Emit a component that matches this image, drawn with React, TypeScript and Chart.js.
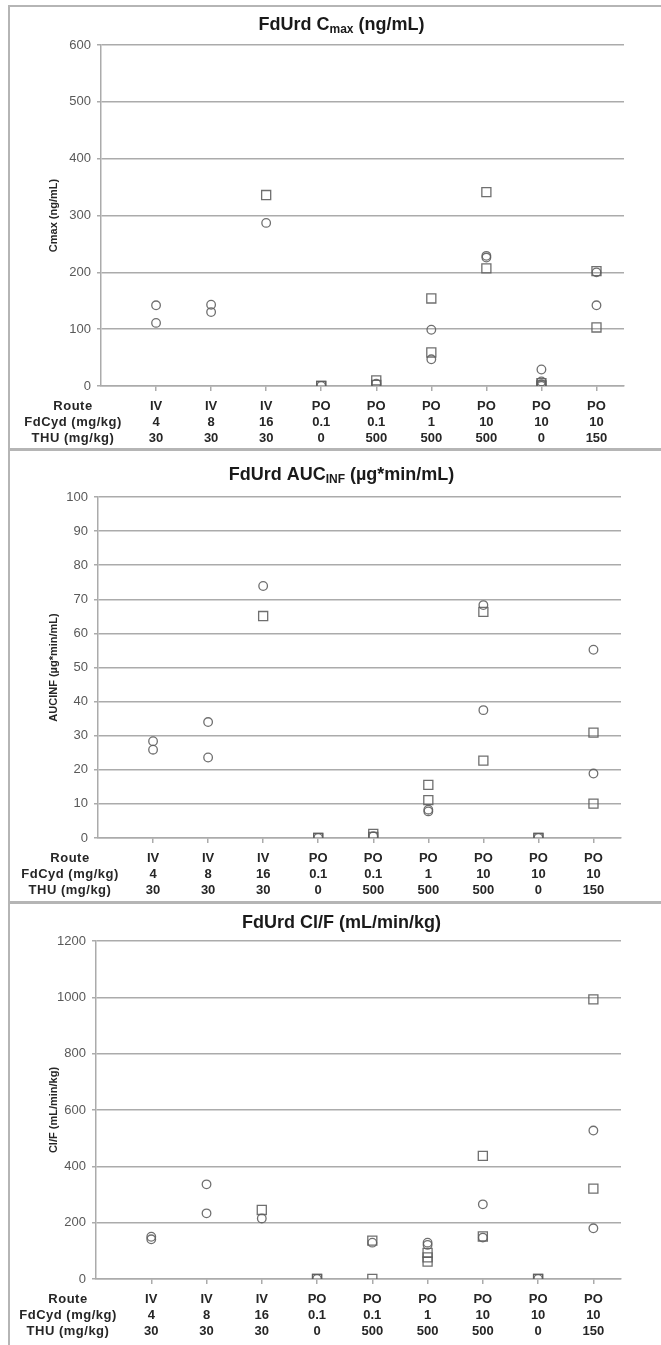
import React, { useEffect, useRef } from "react";
import { Chart, registerables } from "chart.js";

Chart.register(...registerables);

// ---------- data ----------
const routes = ["IV", "IV", "IV", "PO", "PO", "PO", "PO", "PO", "PO"];
const fdcydDoses = ["4", "8", "16", "0.1", "0.1", "1", "10", "10", "10"];
const thuDoses = ["30", "30", "30", "0", "500", "500", "500", "0", "150"];
const rowHeaders = ["Route", "FdCyd (mg/kg)", "THU (mg/kg)"];
const columnIndex = [1, 2, 3, 4, 5, 6, 7, 8, 9];

const cmaxTicks = { max: 600, step: 100 };
const cmaxCircles = [[142, 111], [143, 130], [287], [0], [4], [99, 47], [229, 226], [29, 8, 3, 0], [200, 142]];
const cmaxSquares = [[], [], [336], [0, 0], [10, 2], [154, 59], [341, 207], [5, 1], [202, 103]];

const aucTicks = { max: 100, step: 10 };
const aucCircles = [[28.4, 25.9], [34.0, 23.6], [73.9], [0], [0.5], [8.3, 7.8], [68.3, 37.5], [0], [55.2, 18.9]];
const aucSquares = [[], [], [65.1], [0, 0], [1.2, 0.3], [15.6, 11.1], [66.3, 22.7], [0, 0], [30.9, 10.1]];

const clTicks = { max: 1200, step: 200 };
const clCircles = [[150, 141], [336, 233], [215], [0], [129], [129, 121], [265, 147], [0], [527, 180]];
const clSquares = [[], [], [245], [0, 0], [136, 0], [93, 77, 62], [437, 151], [0, 0], [993, 321]];

// ---------- styles ----------
const PAGE_W = 661;
const CANVAS_LEFT = 10;
const FONT = "'Liberation Sans', Arial, Helvetica, sans-serif";
const GRID = "#ababab";
const MARK = "rgba(95,95,95,0.9)";
const FRAME = "#b5b5b5";

type Spec = {
  titleMain: string;
  titleSub: string;
  titleTail: string;
  yTitle: string;
  yMax: number;
  yStep: number;
  circles: number[][];
  squares: number[][];
  top: number;
  height: number;
  titleY: number;
  plotTop: number;
  plotBottom: number;
  axisX: number;
  plotRight: number;
};

const specs: Spec[] = [
  {
    titleMain: "FdUrd C", titleSub: "max", titleTail: " (ng/mL)", yTitle: "Cmax (ng/mL)",
    yMax: cmaxTicks.max, yStep: cmaxTicks.step, circles: cmaxCircles, squares: cmaxSquares,
    top: 8, height: 440, titleY: 25, plotTop: 45, plotBottom: 386, axisX: 101, plotRight: 624,
  },
  {
    titleMain: "FdUrd AUC", titleSub: "INF", titleTail: " (µg*min/mL)", yTitle: "AUCINF (µg*min/mL)",
    yMax: aucTicks.max, yStep: aucTicks.step, circles: aucCircles, squares: aucSquares,
    top: 451, height: 450, titleY: 475, plotTop: 497, plotBottom: 838, axisX: 98, plotRight: 621,
  },
  {
    titleMain: "FdUrd Cl/F (mL/min/kg)", titleSub: "", titleTail: "", yTitle: "Cl/F (mL/min/kg)",
    yMax: clTicks.max, yStep: clTicks.step, circles: clCircles, squares: clSquares,
    top: 904, height: 441, titleY: 923, plotTop: 941, plotBottom: 1279, axisX: 96, plotRight: 621,
  },
];

const X_TICK_LEN = 5;
const X_TICK_PAD = 7;
const X_LINE_H = 16;
const X_FONT_SIZE = 13;

function toPoints(groups: number[][]) {
  return groups.flatMap((vals, i) => vals.map((v) => ({ x: columnIndex[i], y: v })));
}

const decorPlugin = {
  id: "decor",
  afterDraw(chart: any, _args: any, opts: any) {
    const ctx = chart.ctx as CanvasRenderingContext2D;
    ctx.save();
    // title with optional subscript
    const bigFont = `bold 18px ${FONT}`;
    const subFont = `bold 12px ${FONT}`;
    ctx.fillStyle = "#1a1a1a";
    ctx.textBaseline = "middle";
    ctx.textAlign = "left";
    ctx.font = bigFont;
    const w1 = ctx.measureText(opts.titleMain).width;
    const w3 = ctx.measureText(opts.titleTail).width;
    ctx.font = subFont;
    const w2 = opts.titleSub ? ctx.measureText(opts.titleSub).width : 0;
    const total = w1 + w2 + w3;
    let x = chart.width / 2 - total / 2 + 6;
    const y = opts.titleY;
    ctx.font = bigFont;
    ctx.fillText(opts.titleMain, x, y);
    x += w1;
    if (opts.titleSub) {
      ctx.font = subFont;
      ctx.fillText(opts.titleSub, x, y + 5);
      x += w2;
    }
    ctx.font = bigFont;
    ctx.fillText(opts.titleTail, x, y);

    // row headers of the table under the axis
    const xs = chart.scales.x;
    ctx.font = `bold ${X_FONT_SIZE}px ${FONT}`;
    (ctx as any).letterSpacing = "0.5px";
    ctx.fillStyle = "#262626";
    ctx.textAlign = "center";
    const cx = chart.chartArea.left - 28;
    rowHeaders.forEach((h, i) => {
      const yy = xs.top + X_TICK_LEN + X_TICK_PAD + X_LINE_H / 2 + i * X_LINE_H;
      ctx.fillText(h, cx, yy);
    });
    ctx.restore();
  },
};

function Panel({ spec }: { spec: Spec }) {
  const ref = useRef<HTMLCanvasElement>(null);
  const W = PAGE_W - CANVAS_LEFT;
  useEffect(() => {
    const canvas = ref.current;
    if (!canvas) return;
    const markerBase = {
      borderColor: MARK,
      backgroundColor: "rgba(0,0,0,0)",
      borderWidth: 1.3,
      pointBorderWidth: 1.3,
      pointHoverRadius: 0,
    };
    const chart = new Chart(canvas, {
      type: "scatter",
      data: {
        datasets: [
          { ...markerBase, data: toPoints(spec.circles), pointStyle: "circle", pointRadius: 4.3 },
          { ...markerBase, data: toPoints(spec.squares), pointStyle: "rect", pointRadius: 6.4 },
        ],
      },
      options: {
        responsive: false,
        animation: false,
        devicePixelRatio: 1,
        layout: {
          padding: {
            top: spec.plotTop - spec.top,
            right: PAGE_W - spec.plotRight,
            left: 0,
            bottom: 0,
          },
        },
        plugins: {
          legend: { display: false },
          tooltip: { enabled: false },
          title: { display: false },
          decor: {
            titleMain: spec.titleMain,
            titleSub: spec.titleSub,
            titleTail: spec.titleTail,
            titleY: spec.titleY - spec.top,
          },
        } as any,
        scales: {
          x: {
            type: "linear",
            min: 0,
            max: 9.5,
            afterBuildTicks: (s: any) => {
              s.ticks = columnIndex.map((v) => ({ value: v }));
            },
            afterFit: (s: any) => {
              s.height = spec.top + spec.height - spec.plotBottom;
            },
            grid: { display: true, drawOnChartArea: false, tickLength: X_TICK_LEN, color: GRID, lineWidth: 1.5 },
            border: { display: true, color: GRID, width: 1.5 },
            ticks: {
              autoSkip: false,
              maxRotation: 0,
              minRotation: 0,
              padding: X_TICK_PAD,
              color: "#262626",
              font: { family: FONT, size: X_FONT_SIZE, weight: "bold", lineHeight: X_LINE_H / X_FONT_SIZE },
              callback: (v: any) => {
                const i = columnIndex.indexOf(Math.round(Number(v)));
                return i >= 0 ? [routes[i], fdcydDoses[i], thuDoses[i]] : "";
              },
            },
          },
          y: {
            min: 0,
            max: spec.yMax,
            afterFit: (s: any) => {
              s.width = spec.axisX - CANVAS_LEFT;
            },
            ticks: {
              stepSize: spec.yStep,
              padding: 6,
              color: "#595959",
              font: { family: FONT, size: 13 },
              callback: (v: any) => String(v),
            },
            grid: { color: GRID, lineWidth: 1.5, tickLength: 4 },
            border: { display: true, color: GRID, width: 1.5 },
            title: {
              display: true,
              text: spec.yTitle,
              color: "#262626",
              font: { family: FONT, size: 11, weight: "bold" },
              padding: { top: 37, bottom: 0 },
            },
          },
        },
      } as any,
      plugins: [decorPlugin as any],
    });
    return () => chart.destroy();
  }, [spec]);
  return (
    <canvas
      ref={ref}
      width={W}
      height={spec.height}
      style={{ position: "absolute", left: CANVAS_LEFT, top: spec.top, width: W, height: spec.height, display: "block" }}
    />
  );
}

export default function App() {
  const frameTops = [5, 448, 901];
  return (
    <div style={{ position: "absolute", left: 0, top: 0, width: PAGE_W, height: 1345, background: "#fff", overflow: "hidden" }}>
      {frameTops.map((t, i) => (
        <div
          key={i}
          style={{
            position: "absolute",
            left: 8,
            top: t,
            width: 700,
            height: 1345 - t,
            borderTop: `${i === 0 ? 2 : 3}px solid ${FRAME}`,
            borderLeft: `2px solid ${FRAME}`,
            boxSizing: "border-box",
          }}
        />
      ))}
      {specs.map((s, i) => (
        <Panel key={i} spec={s} />
      ))}
    </div>
  );
}
